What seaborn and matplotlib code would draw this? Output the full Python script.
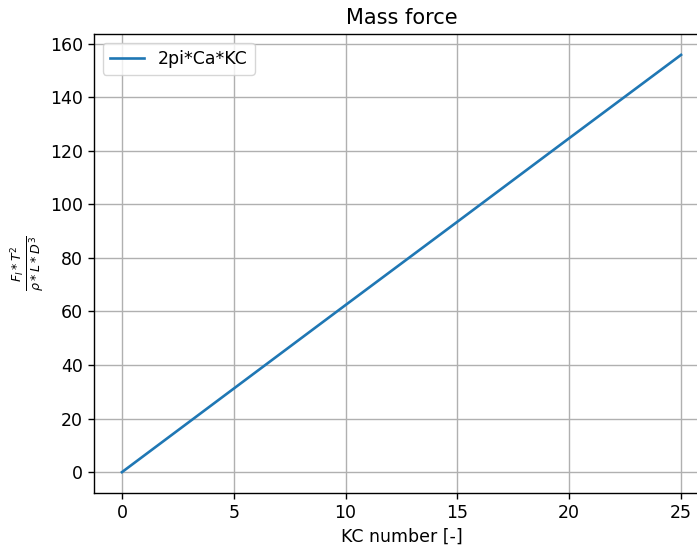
import matplotlib
matplotlib.use("Agg")
import matplotlib.pyplot as plt
import seaborn as sns
import pandas as pd

kc_number = [0, 5, 10, 15, 20, 25]
mass_force = [0.0, 31.2, 62.4, 93.5, 124.7, 155.8]
series_label = "2pi*Ca*KC"

df = pd.DataFrame({"KC": kc_number, "F": mass_force, "series": series_label})

fig = plt.figure(figsize=(6.97, 5.47), dpi=100)
ax = fig.add_axes([94 / 697, 1 - 493 / 547, (709 - 94) / 697, (493 - 34) / 547])
sns.lineplot(data=df, x="KC", y="F", hue="series", palette=["#1f77b4"], ax=ax, linewidth=1.9)
ax.set_title("Mass force", fontsize=15, pad=7)
ax.set_xlabel("KC number [-]", fontsize=12.5)
ax.set_ylabel(r"$\frac{F_I * T^2}{\rho * L * D^3}$", fontsize=13, labelpad=2)
ax.tick_params(labelsize=12.5, width=1.0, length=4.5)
ax.set_xticks([0, 5, 10, 15, 20, 25])
ax.set_yticks([0, 20, 40, 60, 80, 100, 120, 140, 160])
ax.set_xlim(-1.25, 26.25)
ax.grid(True, linewidth=1.0)
for s in ax.spines.values():
    s.set_visible(True)
    s.set_linewidth(1.0)
    s.set_color("black")
ax.legend(title=None, loc="upper left", fontsize=12.5)
fig.savefig("out.png", dpi=100)
